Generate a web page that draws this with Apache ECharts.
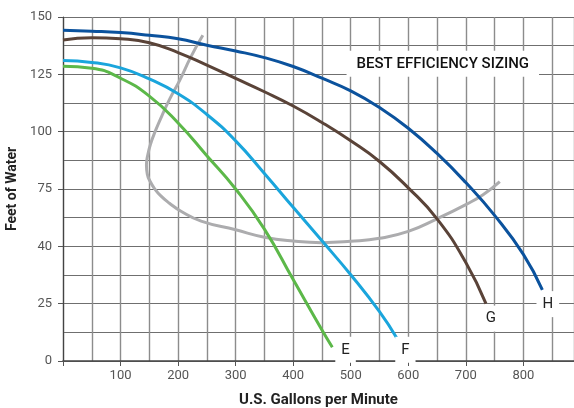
<!DOCTYPE html>
<html>
<head>
<meta charset="utf-8">
<script src="https://cdn.jsdelivr.net/npm/echarts@6/dist/echarts.min.js"></script>
<style>
html,body{margin:0;padding:0;background:#fff;}
#c{width:574px;height:408px;}
</style>
</head>
<body>
<div id="c"></div>
<script>
// ---- data (U.S. gallons per minute, feet of water) ----
const curveE = [[0,128.5],[50,127.7],[100,123.3],[150,115.5],[200,103.8],[250,89.5],[300,75],[350,57.5],[400,35.5],[450,13.5],[468,6]];
const curveF = [[0,131],[50,130.2],[100,127.8],[150,123],[200,116.5],[250,107.5],[300,96],[350,81.8],[400,67],[450,52.4],[500,37.6],[550,21.5],[580,10]];
const curveG = [[0,140],[50,141],[100,140.5],[150,138.8],[200,134.5],[250,129],[300,123.2],[350,117.4],[400,111.2],[450,104],[500,96],[550,87],[600,75.5],[650,62],[700,43],[735,25]];
const curveH = [[0,144.2],[50,143.8],[100,143.2],[150,142],[200,140.5],[250,137.7],[300,135.2],[350,132.3],[400,128.4],[450,123.3],[500,117.8],[550,110.5],[600,101.5],[650,90.5],[700,77.8],[750,63.5],[800,46.5],[833,31]];
const bepCurve = [[243,142],[222,132.5],[203,122.5],[186,114.5],[172,107],[160,100],[152,94.5],[147,89.5],[145,85.5],[146.5,81.5],[151,78.5],[159,75.2],[170,72],[185,68.8],[205,65.3],[240,61],[300,57.2],[350,54],[400,52.3],[450,51.6],[500,52.2],[550,53.5],[600,56.5],[650,62],[700,68.2],[730,72.5],[759,78.2]];

const curveNames = ['E','F','G','H'];
const xTickValues = [100,200,300,400,500,600,700,800];
const yTickValues = [0,25,50,75,100,125,150];
const yTickText  = ['0','25','40','75','100','125','150'];
const noteText = 'BEST EFFICIENCY SIZING';

const FONT = 'Roboto';
const XMAX = 888;
const colors = {E:'#5cb849', F:'#1aa5dc', G:'#5a4338', H:'#0b529d', bep:'#acacae'};
const labelPos = {E:[491,4.9], F:[595,4.9], G:[743.5,18.5], H:[842.5,24.8]};

function curveSeries(name, data){
  return {
    type:'line', name:name, data:data, smooth:0.5,
    symbol:'none', lineStyle:{color:colors[name], width:3}, z:3,
    markPoint:{
      symbol:'rect', symbolSize:0, silent:true,
      data:[{coord:labelPos[name], value:name}],
      label:{show:true, position:'inside', formatter:name, fontFamily:FONT, fontSize:15,
             color:'#222', backgroundColor:'#fff', padding:[4,6], lineHeight:18}
    }
  };
}

const chart = echarts.init(document.getElementById('c'), null, {renderer:'canvas'});
chart.setOption({
  animation:false,
  backgroundColor:'#fff',
  grid:{left:63, top:17, right:0, height:344, containLabel:false, outerBoundsMode:'none'},
  xAxis:[{
    type:'value', min:0, max:XMAX, interval:50,
    axisLine:{show:true, lineStyle:{color:'#444', width:1.5}},
    axisTick:{show:false},
    axisLabel:{show:false},
    splitLine:{show:true, lineStyle:{color:'#8c8c8c', width:1.4}},
    name:'U.S. Gallons per Minute', nameLocation:'middle', nameGap:32,
    nameTextStyle:{fontFamily:FONT, fontSize:15, fontWeight:'bold', color:'#222'}
  },{
    type:'value', min:0, max:XMAX, interval:100, position:'bottom',
    axisLine:{show:false},
    axisTick:{show:true, length:5, lineStyle:{color:'#555'}},
    axisLabel:{fontFamily:FONT, fontSize:13, color:'#555', margin:8,
      formatter:function(v){ return xTickValues.indexOf(v)>=0 ? String(v) : ''; }},
    splitLine:{show:false}
  }],
  yAxis:{
    type:'value', min:0, max:150, interval:25,
    axisLine:{show:true, lineStyle:{color:'#444', width:1.2}},
    axisTick:{show:true, length:5, lineStyle:{color:'#555'}},
    axisLabel:{fontFamily:FONT, fontSize:13, color:'#555', margin:11,
      formatter:function(v){ const i = yTickValues.indexOf(v); return i>=0 ? yTickText[i] : ''; }},
    splitLine:{show:true, lineStyle:{color:'#6f6f6f', width:1.1}},
    minorTick:{show:false, splitNumber:2},
    minorSplitLine:{show:true, lineStyle:{color:'#6f6f6f', width:1.1}},
    name:'Feet of Water', nameLocation:'middle', nameGap:32,
    nameTextStyle:{fontFamily:FONT, fontSize:14, fontWeight:'bold', color:'#222'}
  },
  series:[
    {
      type:'line', name:'bep', data:bepCurve, smooth:0.5, symbol:'none', z:2,
      lineStyle:{color:colors.bep, width:3},
      markPoint:{
        symbol:'rect', symbolSize:0, silent:true,
        data:[{coord:[660,129.6], value:noteText}],
        label:{show:true, position:'inside', formatter:noteText, fontFamily:FONT, fontSize:15,
               fontWeight:500, color:'#111', backgroundColor:'#fff', padding:[5,10], lineHeight:16}
      }
    },
    curveSeries('E', curveE),
    curveSeries('F', curveF),
    curveSeries('G', curveG),
    curveSeries('H', curveH)
  ]
});
</script>
</body>
</html>
